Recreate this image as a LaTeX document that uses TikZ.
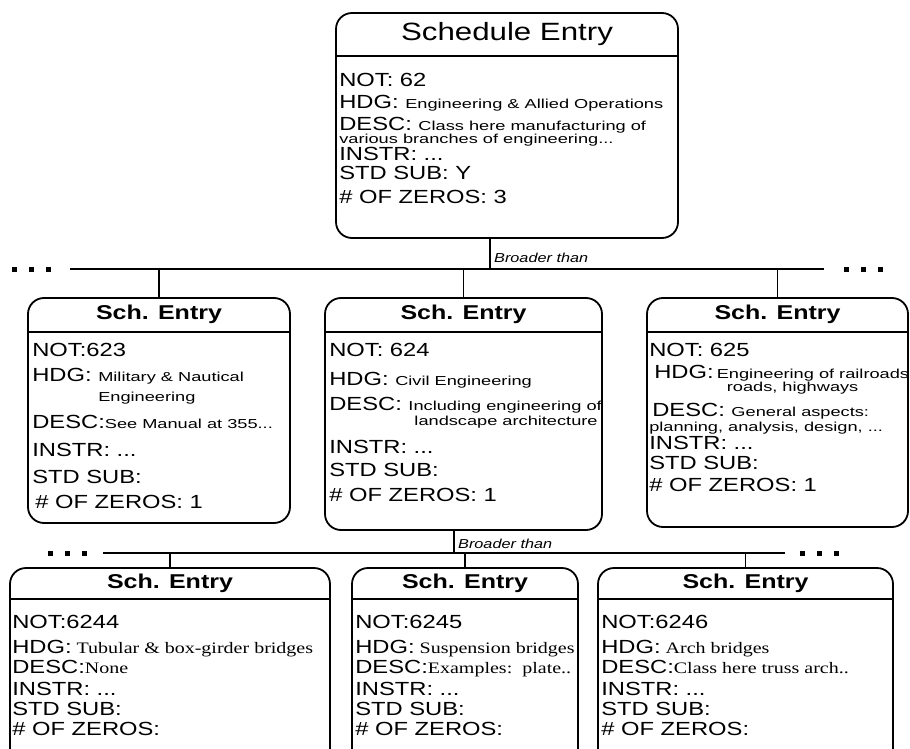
\documentclass[tikz,border=0pt]{standalone}
\usepackage{fontspec}
\setmainfont{Liberation Sans}[FakeStretch=1.25]
\newfontfamily\nyfont{Liberation Serif}[FakeStretch=1.25]
\newfontfamily\chicofont{Liberation Sans}[FakeStretch=1.4]
\newcommand{\chico}[1]{{\chicofont\fontsize{13}{13}\selectfont #1}}
\newcommand{\serifa}[1]{{\nyfont\fontsize{16}{16}\selectfont #1}}

\begin{document}
\begin{tikzpicture}[
    x=1pt, y=-1pt,
    ficha/.style={draw=black, line width=1.8pt, rounded corners=16pt, inner sep=0pt},
    barra/.style={line width=2.4pt},
    titulo/.style={inner sep=0pt, font=\bfseries\fontsize{20}{20}\selectfont},
    cuerpo/.style={align=left, inner sep=0pt, anchor=north west},
    linea/.style={line width=1.6pt},
    rama/.style={line width=1.1pt},
    puntos/.style={line width=5pt, dash pattern=on 5pt off 12pt},
    nota/.style={inner sep=0pt, font=\itshape\fontsize{13}{13}\selectfont}
]
    \useasboundingbox (0,0) rectangle (910,749);
    \clip (0,0) rectangle (910,749);

    % --- FICHA PRINCIPAL (62) ---
    \node[ficha, minimum width=342pt, minimum height=225pt] (top) at (507,125.5) {};
    \draw[barra] ([yshift=-44pt]top.north west) -- ([yshift=-44pt]top.north east);
    \node[inner sep=0pt, font=\fontsize{25}{25}\selectfont] (tTop) at ([yshift=-22pt]top.north) {Schedule Entry};
    \node[cuerpo, font={\fontsize{19}{22}\selectfont}] (xTop) at ([xshift=4pt, yshift=-61pt]top.north west)
        {NOT: 62\\
         HDG: \chico{Engineering \& Allied Operations}\\
         DESC: \chico{Class here manufacturing of}\\[-9pt]
         \chico{various branches of engineering...}\\[-5pt]
         INSTR: ...\\[-3pt]
         STD SUB: Y\\[2pt]
         \# OF ZEROS: 3};

    % --- PRIMER NIVEL: 623, 624, 625 ---
    \node[ficha, minimum width=262pt, minimum height=225pt] (b623) at (159,410.5) {};
    \node[ficha, minimum width=277pt, minimum height=232pt] (b624) at (463.5,414) {};
    \node[ficha, minimum width=261pt, minimum height=229pt] (b625) at (777.5,412.5) {};
    \foreach \b in {b623,b624,b625} {
        \draw[barra] ([yshift=-35pt]\b.north west) -- ([yshift=-35pt]\b.north east);
        \node[titulo] (t\b) at ([yshift=-17.5pt]\b.north) {Sch. Entry};
    }

    \node[cuerpo, font={\fontsize{19}{27}\selectfont}] (x623) at ([xshift=5pt, yshift=-46pt]b623.north west)
        {NOT:623\\[-2pt]
         HDG: \chico{Military \& Nautical}\\[-7pt]
         \phantom{HDG: }\chico{Engineering}\\
         DESC:\chico{See Manual at 355...}\\[1pt]
         INSTR: ...\\
         STD SUB:\\[-2pt]
         \hspace*{3pt}\# OF ZEROS: 1};

    \node[cuerpo, font={\fontsize{19}{25}\selectfont}] (x624) at ([xshift=5pt, yshift=-46pt]b624.north west)
        {NOT: 624\\[4pt]
         HDG: \chico{Civil Engineering}\\
         DESC: \chico{Including engineering of}\\[-10pt]
         \phantom{DESC: }\hspace*{6pt}\chico{landscape architecture}\\[3pt]
         INSTR: ...\\[-2pt]
         STD SUB:\\
         \# OF ZEROS: 1};

    \node[cuerpo, font={\fontsize{19}{22}\selectfont}] (x625) at ([xshift=3pt, yshift=-46pt]b625.north west)
        {NOT: 625\\
         \hspace*{5pt}HDG:\,\chico{Engineering of railroads}\\[-9pt]
         \phantom{\hspace*{5pt}HDG:\,}\hspace*{10pt}\chico{roads, highways}\\[3pt]
         \hspace*{3pt}DESC: \chico{General aspects:}\\[-7pt]
         \chico{planning, analysis, design, ...}\\[-4pt]
         INSTR: ...\\[-2pt]
         STD SUB:\\
         \# OF ZEROS: 1};

    % --- SEGUNDO NIVEL: 6244, 6245, 6246 ---
    \node[ficha, minimum width=320pt, minimum height=202pt] (b6244) at (170,669) {};
    \node[ficha, minimum width=226pt, minimum height=202pt] (b6245) at (465,669) {};
    \node[ficha, minimum width=295pt, minimum height=202pt] (b6246) at (745.5,669) {};
    \foreach \b in {b6244,b6245,b6246} {
        \draw[barra] ([yshift=-32pt]\b.north west) -- ([yshift=-32pt]\b.north east);
        \node[titulo] (t\b) at ([yshift=-16pt]\b.north) {Sch. Entry};
    }

    \node[cuerpo, font={\fontsize{19}{21}\selectfont}] (x6244) at ([xshift=3pt, yshift=-48pt]b6244.north west)
        {NOT:6244\\[4pt]
         HDG:\serifa{ Tubular \& box-girder bridges}\\[-1pt]
         DESC:\serifa{None}\\[1pt]
         INSTR: ...\\[-1pt]
         STD SUB:\\[-1pt]
         \# OF ZEROS:};

    \node[cuerpo, font={\fontsize{19}{21}\selectfont}] (x6245) at ([xshift=4pt, yshift=-48pt]b6245.north west)
        {NOT:6245\\[4pt]
         HDG:\serifa{ Suspension bridges}\\[-1pt]
         DESC:\serifa{Examples:\ \ plate..}\\[1pt]
         INSTR: ...\\[-1pt]
         STD SUB:\\[-1pt]
         \# OF ZEROS:};

    \node[cuerpo, font={\fontsize{19}{21}\selectfont}] (x6246) at ([xshift=4pt, yshift=-48pt]b6246.north west)
        {NOT:6246\\[4pt]
         HDG:\serifa{ Arch bridges}\\[-1pt]
         DESC:\serifa{Class here truss arch..}\\[1pt]
         INSTR: ...\\[-1pt]
         STD SUB:\\[-1pt]
         \# OF ZEROS:};

    % --- BARRA 1 (Broader than) ---
    \coordinate (bus1L) at (70,269);
    \coordinate (bus1R) at (824,269);
    \coordinate (j1) at (490,269);
    \draw[linea] (bus1L) -- (bus1R);
    \draw[puntos] (12,269) -- (58,269);
    \draw[puntos] (844,269) -- (890,269);
    \draw[rama] (j1 |- top.south) -- (j1);
    \node[nota, anchor=south west] (rel1) at ([xshift=4pt, yshift=6pt]j1) {Broader than};
    \foreach \b in {b623,b624,b625}
        \draw[rama] (\b.north |- bus1L) -- (\b.north);

    % --- BARRA 2 (Broader than) ---
    \coordinate (bus2L) at (103,553);
    \coordinate (bus2R) at (785,553);
    \coordinate (j2) at (454,553);
    \draw[linea] (bus2L) -- (bus2R);
    \draw[puntos] (48,553) -- (94,553);
    \draw[puntos] (800,553) -- (846,553);
    \draw[rama] (j2 |- b624.south) -- (j2);
    \node[nota, anchor=south west] (rel2) at ([xshift=4pt, yshift=4pt]j2) {Broader than};
    \foreach \b in {b6244,b6245,b6246}
        \draw[rama] (\b.north |- bus2L) -- (\b.north);
\end{tikzpicture}
\end{document}
